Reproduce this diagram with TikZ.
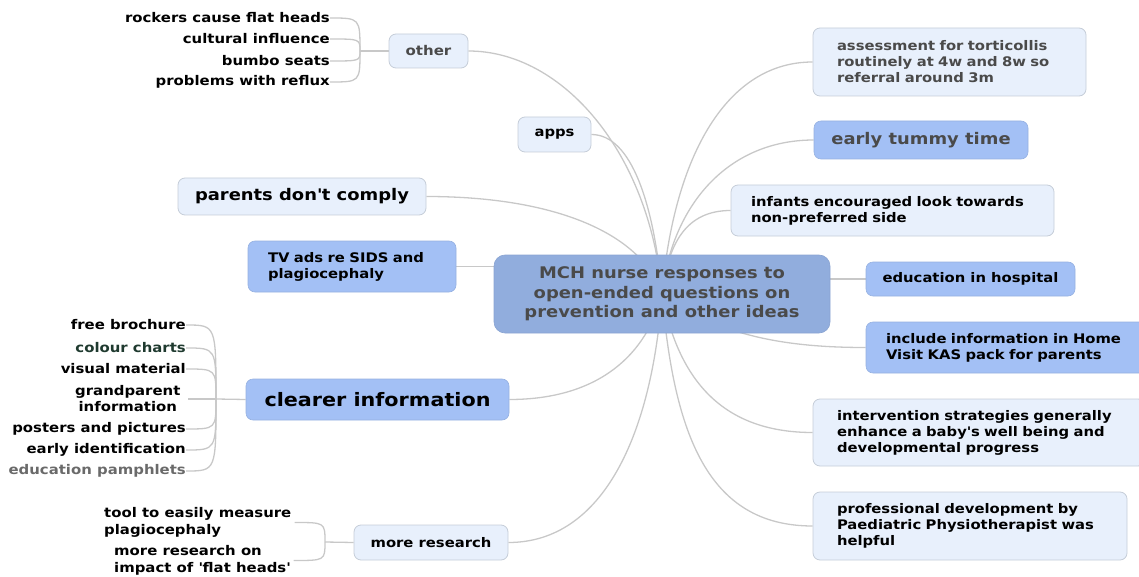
\documentclass[tikz,border=0pt]{standalone}
\usepackage{fontspec}
\setmainfont{DejaVu Sans}[FakeStretch=1.12]
\usetikzlibrary{backgrounds}
\definecolor{lightfill}{HTML}{E8F0FC}
\definecolor{lightdraw}{HTML}{C5CDD8}
\definecolor{bluefill}{HTML}{A3C0F5}
\definecolor{centerfill}{HTML}{91ADDD}
\definecolor{conn}{HTML}{C8C8C8}
\definecolor{txtgray}{HTML}{4A4A4A}
\definecolor{darkgreen}{HTML}{1F3A2F}
\definecolor{paleg}{HTML}{6A6A6A}
\begin{document}
\begin{tikzpicture}[x=1pt,y=-1pt,
 box/.style={rounded corners=7pt, inner ysep=0pt, font=\bfseries\fontsize{13.2}{16}\selectfont, text=black},
 lightbox/.style={box, fill=lightfill, draw=lightdraw, line width=0.8pt},
 bluebox/.style={box, fill=bluefill, draw=bluefill!92!black, line width=0.6pt},
 centerbox/.style={box, rounded corners=11pt, fill=centerfill, draw=centerfill!95!black, line width=0.6pt, text=txtgray, align=center, font=\bfseries\fontsize{16}{19.5}\selectfont},
 leaf/.style={inner sep=0pt, font=\bfseries\fontsize{13.3}{16}\selectfont, text=black},
 link/.style={draw=conn, line width=1.3pt},
]
\useasboundingbox (0,0) rectangle (1139,577);

% central topic
\node[centerbox, minimum width=336pt, minimum height=78pt] (c) at (662,294) {MCH nurse responses to\\open-ended questions on\\prevention and other ideas};

% left children
\node[lightbox, minimum width=79pt, minimum height=34pt, text=txtgray, font=\bfseries\fontsize{13.4}{16}\selectfont] (other) at (428.5,51) {other};
\node[lightbox, minimum width=73pt, minimum height=35pt] (apps) at (554.5,134.5) {apps};
\node[lightbox, minimum width=248pt, minimum height=37pt, font=\bfseries\fontsize{16}{19}\selectfont] (parents) at (302,196.5) {parents don\textquotesingle t comply};
\node[bluebox, minimum width=208pt, minimum height=51pt, inner xsep=20pt, text width=168pt, align=left] (tv) at (352,266.5) {TV ads re SIDS and\\plagiocephaly};
\node[bluebox, minimum width=263pt, minimum height=41pt, font=\bfseries\fontsize{18.5}{22}\selectfont] (clear) at (377.5,399.5) {clearer information};
\node[lightbox, minimum width=154pt, minimum height=35pt] (research) at (431,542.5) {more research};

% right children
\node[lightbox, minimum width=273pt, minimum height=68pt, inner xsep=24pt, text width=225pt, align=left, text=txtgray] (assess) at (949.5,62) {assessment for torticollis\\routinely at 4w and 8w so\\referral around 3m};
\node[bluebox, minimum width=214pt, minimum height=38pt, text=txtgray, font=\bfseries\fontsize{16}{19}\selectfont] (tummy) at (921,140) {early tummy time};
\node[lightbox, minimum width=323pt, minimum height=51pt, inner xsep=20pt, text width=283pt, align=left] (infants) at (892.5,210.5) {infants encouraged look towards\\non-preferred side};
\node[bluebox, minimum width=209pt, minimum height=34pt] (edu) at (970.5,279) {education in hospital};
\node[bluebox, minimum width=285pt, minimum height=51pt, inner xsep=20pt, text width=245pt, align=left] (incl) at (1008.5,347.5) {include information in Home\\Visit KAS pack for parents};
\node[lightbox, minimum width=332pt, minimum height=67pt, inner xsep=24pt, text width=284pt, align=left] (interv) at (979,432.5) {intervention strategies generally\\enhance a baby\textquotesingle s well being and\\developmental progress};
\node[lightbox, minimum width=314pt, minimum height=68pt, inner xsep=24pt, text width=266pt, align=left] (prof) at (970,526) {professional development by\\Paediatric Physiotherapist was\\helpful};

% leaves of "other"
\coordinate (jo) at (360,51);
\node[leaf, anchor=east] (o1) at (330,18) {rockers cause flat heads};
\node[leaf, anchor=east] (o2) at (330,39) {cultural influence};
\node[leaf, anchor=east] (o3) at (330,61) {bumbo seats};
\node[leaf, anchor=east] (o4) at (330,82) {problems with reflux};

% leaves of "clearer information"
\coordinate (jc) at (216,399);
\node[leaf, anchor=east] (c1) at (186,325) {free brochure};
\node[leaf, anchor=east, text=darkgreen] (c2) at (186,348) {colour charts};
\node[leaf, anchor=east] (c3) at (186,369) {visual material};
\node[leaf, anchor=east, text width=118pt, align=center, inner xsep=1pt] (c4) at (188,399) {grandparent\\information};
\node[leaf, anchor=east] (c5) at (186,429) {posters and pictures};
\node[leaf, anchor=east] (c6) at (186,450) {early identification};
\node[leaf, anchor=east, text=paleg] (c7) at (186,471) {education pamphlets};

% leaves of "more research"
\coordinate (jr) at (325,542);
\node[leaf, anchor=west, align=left, inner xsep=3pt, font=\bfseries\fontsize{13.3}{17}\selectfont] (r1) at (101,522.5) {tool to easily measure\\plagiocephaly};
\node[leaf, anchor=west, align=left, inner xsep=3pt, font=\bfseries\fontsize{13.3}{17}\selectfont] (r2) at (111,560.5) {more research on\\impact of \textquotesingle flat heads\textquotesingle};

\begin{scope}[on background layer]
% central connectors
\draw[link] (c.center) .. controls +(-12,-140) and +(95,0) .. (other.east);
\draw[link] (c.center) .. controls +(-8,-90) and +(40,0) .. (apps.east);
\draw[link] (c.center) .. controls +(-20,-60) and +(130,0) .. (parents.east);
\draw[link] (tv.east) -- (tv.east -| c.west);
\draw[link] (c.center) .. controls +(-15,60) and +(90,0) .. (clear.east);
\draw[link] (c.center) .. controls +(-10,140) and +(95,0) .. (research.east);
\draw[link] (c.center) .. controls +(12,-140) and +(-85,0) .. (assess.west);
\draw[link] (c.center) .. controls +(10,-90) and +(-85,0) .. (tummy.west);
\draw[link] (c.center) .. controls +(6,-50) and +(-45,0) .. (infants.west);
\draw[link] (edu.west) -- (edu.west -| c.east);
\draw[link] (c.center) .. controls +(60,45) and +(-70,0) .. (incl.west);
\draw[link] (c.center) .. controls +(15,80) and +(-95,0) .. (interv.west);
\draw[link] (c.center) .. controls +(12,140) and +(-105,0) .. (prof.west);
% other bracket
\draw[link] (jo) -- (other.west);
\foreach \n in {o1,o2,o3,o4}{\draw[link] (\n.east) .. controls (jo |- \n.east) .. (jo);}
% clearer bracket
\draw[link] (jc) -- (clear.west);
\foreach \n in {c1,c2,c3,c4,c5,c6,c7}{\draw[link] (\n.east) .. controls (jc |- \n.east) .. (jc);}
% research bracket
\draw[link] (jr) -- (research.west);
\draw[link] (r1.east) .. controls (jr |- r1.east) .. (jr);
\draw[link] (r2.east) .. controls (jr |- r2.east) .. (jr);
\end{scope}
\end{tikzpicture}
\end{document}
